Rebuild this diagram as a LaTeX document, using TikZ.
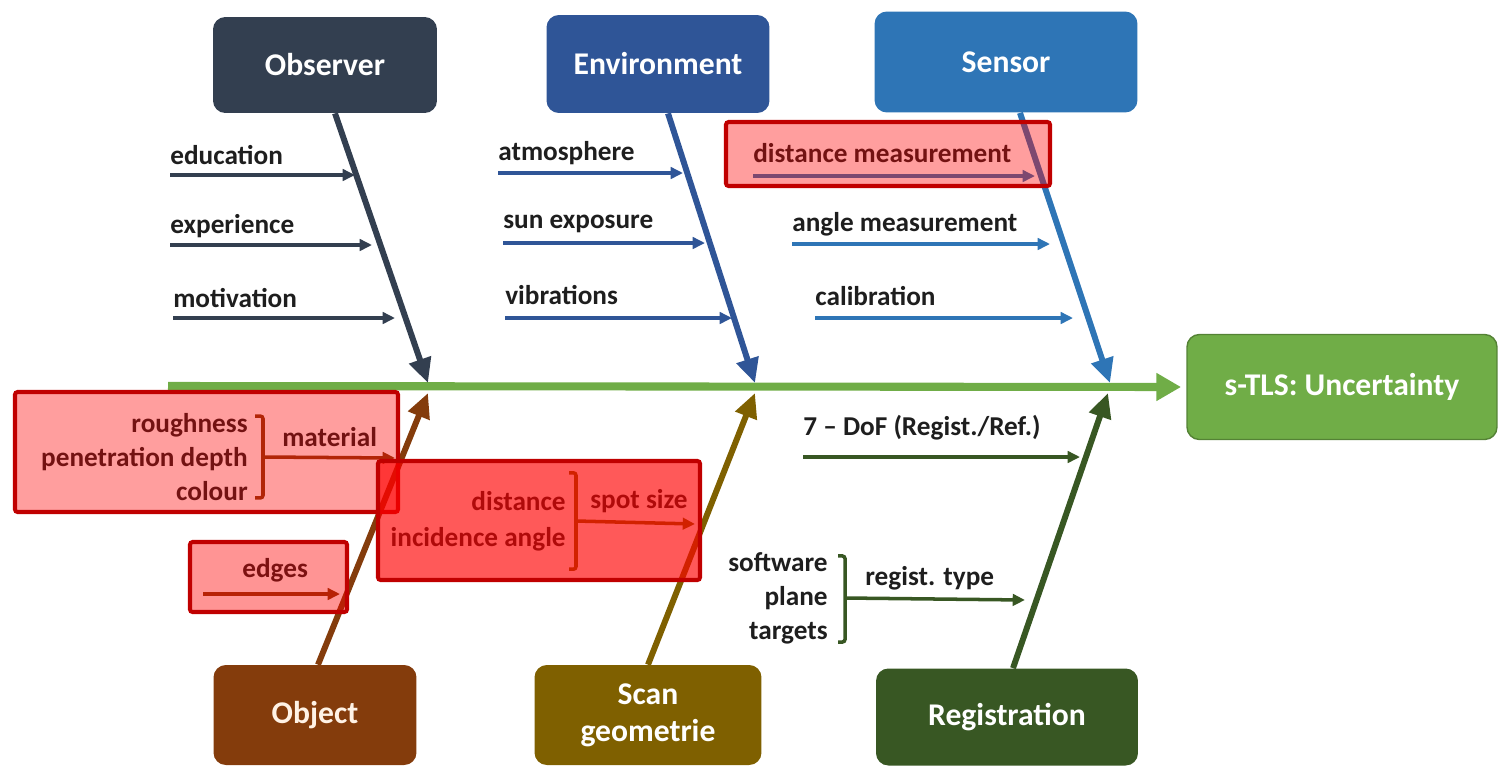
\documentclass[tikz,border=0pt]{standalone}
\usepackage{fontspec}
\setmainfont{Carlito}
\usetikzlibrary{arrows.meta, calc}

\definecolor{obscol}{HTML}{333F50}
\definecolor{envcol}{HTML}{2F5597}
\definecolor{sencol}{HTML}{2E75B6}
\definecolor{objcol}{HTML}{843C0C}
\definecolor{scancol}{HTML}{7F6000}
\definecolor{regcol}{HTML}{385723}
\definecolor{tlscol}{HTML}{70AD47}
\definecolor{labcol}{HTML}{1E1E1E}
\definecolor{markcol}{HTML}{C00000}

\begin{document}
\begin{tikzpicture}[x=0.02cm, y=-0.02cm, >=Triangle,
  cat/.style={rounded corners=7pt, fill=#1, text=white, inner sep=0pt, align=center,
    font=\bfseries\fontsize{18}{21}\selectfont},
  cause/.style={anchor=west, inner sep=0pt, text=labcol, align=right,
    font=\bfseries\fontsize{15.5}{19.3}\selectfont},
  bone/.style={draw=#1, line width=3.4pt, -{Triangle[length=14pt,width=12.5pt]}},
  twig/.style={draw=#1, line width=2pt, -{Triangle[length=7pt,width=6.5pt]}},
  brk/.style={draw=#1, line width=2pt, rounded corners=1.5pt},
  hilite/.style={draw=markcol, line width=2.3pt, fill=red, fill opacity=#1, rounded corners=1.5pt}]
  \useasboundingbox (0,0) rectangle (1498,765);

  % categories
  \node[cat=obscol, minimum width=4.48cm, minimum height=1.92cm] (obs) at (325,65) {Observer};
  \node[cat=envcol, minimum width=4.46cm, minimum height=1.96cm] (env) at (658,64) {Environment};
  \node[cat=sencol, minimum width=5.26cm, minimum height=2.02cm] (sen) at (1006,62) {Sensor};
  \node[cat=objcol, text=orange!10, minimum width=4.06cm, minimum height=2cm] (obj) at (315,715) {Object};
  \node[cat=scancol, minimum width=4.54cm, minimum height=2cm] (scan) at (648,715) {Scan\\geometrie};
  \node[cat=regcol, minimum width=5.24cm, minimum height=1.94cm] (reg) at (1007,717) {Registration};
  \node[cat=tlscol, draw=tlscol!75!black, line width=0.8pt, minimum width=6.2cm, minimum height=2.1cm] (tls) at (1342,387) {s-TLS: Uncertainty};

  % spine
  \coordinate (tail) at (168,386);
  \draw[draw=tlscol, line width=4.6pt, shorten >=3pt, -{Triangle[length=14pt,width=15pt]}] (tail) -- (tls.west);

  % bones
  \coordinate (obsE) at (428,383);
  \coordinate (envE) at (755,383);
  \coordinate (senE) at (1110,383);
  \coordinate (objE) at (428,393);
  \coordinate (scanE) at (755,393);
  \coordinate (regE) at (1108,393);
  \draw[bone=obscol] ($(obs.south)+(10,0)$) -- (obsE);
  \draw[bone=envcol] ($(env.south)+(10,0)$) -- (envE);
  \draw[bone=sencol] ($(sen.south)+(14,0)$) -- (senE);
  \draw[bone=objcol] ($(obj.north)+(3,0)$) -- (objE);
  \draw[bone=scancol] (scan.north) -- (scanE);
  \draw[bone=regcol] ($(reg.north)+(6,0)$) -- (regE);

  % causes
  \foreach \n/\t/\x/\y/\xe/\ye in {edu/education/170/155/355/175, exp/experience/170/226/372/245, mot/motivation/173/298/395/318}{
    \node[cause] (\n) at (\x,\y) {\t};
    \coordinate (\n-e) at (\xe,\ye);
    \draw[twig=obscol] (\n.west |- \n-e) -- (\n-e);
  }
  \foreach \n/\t/\x/\y/\xe/\ye in {atm/atmosphere/498/153/683/173, sun/sun exposure/503/224/705/243, vib/vibrations/505/295/732/318}{
    \node[cause] (\n) at (\x,\y) {\t};
    \coordinate (\n-e) at (\xe,\ye);
    \draw[twig=envcol] (\n.west |- \n-e) -- (\n-e);
  }
  \foreach \n/\t/\x/\y/\xe/\ye in {dist/distance measurement/753/153/1035/176, ang/angle measurement/792/224/1050/244, cal/calibration/815/296/1073/318}{
    \node[cause] (\n) at (\x,\y) {\t};
    \coordinate (\n-e) at (\xe,\ye);
    \draw[twig=sencol] (\n.west |- \n-e) -- (\n-e);
  }
  \node[cause] (dof) at (803,428) {7 -- DoF (Regist./Ref.)};
  \coordinate (dof-e) at (1080,457);
  \draw[twig=regcol] (dof.west |- dof-e) -- (dof-e);

  \node[cause] (edg) at (242,570) {edges};
  \coordinate (edg-a) at (203,594);
  \coordinate (edg-e) at (340,594);
  \draw[twig=objcol] (edg-a) -- (edg-e);

  % grouped causes
  \node[cause, anchor=east] (mlist) at (248,457) {roughness\\penetration depth\\colour};
  \node[cause] (mat) at (282,437) {material};
  \coordinate (mat-e) at (395,458);
  \draw[brk=objcol] ($(mlist.north east)+(7,3)$) -| ($(mlist.east)+(15,0)$) |- ($(mlist.south east)+(7,-3)$);
  \draw[twig=objcol] ($(mlist.east)+(15,0)$) -- (mat-e);

  \node[cause, anchor=east, font=\bfseries\fontsize{15.5}{20.5}\selectfont] (slist) at (566,521) {distance\\incidence angle};
  \node[cause] (spot) at (590,501) {spot size};
  \coordinate (spot-e) at (695,524);
  \draw[brk=scancol] ($(slist.north east)+(3,-18)$) -| ($(slist.east)+(10,0)$) |- ($(slist.south east)+(3,18)$);
  \draw[twig=scancol] ($(slist.east)+(10,0)$) -- (spot-e);

  \node[cause, anchor=east] (rlist) at (828,598) {software\\plane\\targets};
  \node[cause] (rtyp) at (865,578) {regist. type};
  \coordinate (rtyp-e) at (1025,600);
  \draw[brk=regcol] ($(rlist.north east)+(10,4)$) -| ($(rlist.east)+(17,0)$) |- ($(rlist.south east)+(10,-2)$);
  \draw[twig=regcol] ($(rlist.east)+(17,0)$) -- (rtyp-e);

  % highlighted causes
  \draw[hilite=0.38] (15,392) rectangle (398,512);
  \draw[hilite=0.65] (378,461) rectangle (700,580);
  \draw[hilite=0.42] (190,542) rectangle (347,612);
  \draw[hilite=0.38] (726,122) rectangle (1050,186);
\end{tikzpicture}
\end{document}
